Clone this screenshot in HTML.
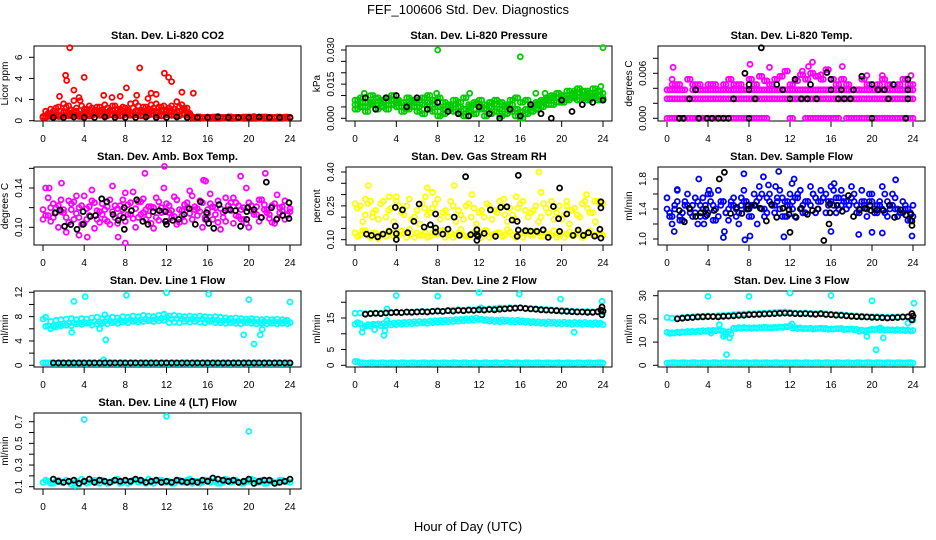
<!DOCTYPE html>
<html><head><meta charset="utf-8"><style>
html,body{margin:0;padding:0;background:#fff;}
svg{display:block;font-family:"Liberation Sans",sans-serif;}
</style></head><body>
<svg id="fig" width="936" height="540" viewBox="0 0 936 540" xmlns="http://www.w3.org/2000/svg">
<rect x="0" y="0" width="936" height="540" fill="#fff"/>
<text x="468" y="14" font-size="13" text-anchor="middle">FEF_100606  Std. Dev. Diagnostics</text>
<text x="468" y="531" font-size="13" text-anchor="middle">Hour of Day (UTC)</text>
</svg>
<script>
const HH=[0,0.5,1,1.5,2,2.5,3,3.5,4,4.5,5,5.5,6,6.5,7,7.5,8,8.5,9,9.5,10,10.5,11,11.5,12,12.5,13,13.5,14,14.5,15,15.5,16,16.5,17,17.5,18,18.5,19,19.5,20,20.5,21,21.5,22,22.5,23,23.5,24];
const HQ=[0.25,0.75,1.25,1.75,2.25,2.75,3.25,3.75,4.25,4.75,5.25,5.75,6.25,6.75,7.25,7.75,8.25,8.75,9.25,9.75,10.25,10.75,11.25,11.75,12.25,12.75,13.25,13.75,14.25,14.75,15.25,15.75,16.25,16.75,17.25,17.75,18.25,18.75,19.25,19.75,20.25,20.75,21.25,21.75,22.25,22.75,23.25,23.75];
const KH=[1,2,3,4,5,6,7,8,9,10,11,12,13,14,15,16,17,18,19,20,21,22,23,24];
const xTickVals=[0,4,8,12,16,20,24];

// Panel 1 CO2
const co2A=[0.4,0.7,0.9,1.3,1.6,1.4,1.9,2.2,1.1,1.4,1.0,1.3,1.5,0.9,1.4,1.1,1.2,1.6,1.7,1.0,1.3,1.5,1.6,1.3,1.0,1.4,1.8,1.5,1.2,0.4,0.35,0.3,0.35,0.3,0.4,0.3,0.35,0.3,0.3,0.35,0.3,0.4,0.3,0.35,0.3,0.3,0.35,0.3,0.3];
const co2B=[0.3,0.5,0.6,0.5,0.8,0.7,0.9,0.6,0.8,0.6,0.9,0.8,0.7,1.0,0.7,0.9,0.8,0.6,0.9,0.8,0.7,0.9,0.8,1.0,0.9,0.8,0.9,1.0,0.7,0.3,0.3,0.25,0.3,0.3,0.3,0.25,0.3,0.3,0.25,0.3,0.3,0.3,0.25,0.3,0.3,0.3,0.3,0.25,0.3];
const co2C=[0.35,0.4,0.45,0.4,0.5,0.45,0.55,0.4,0.5,0.45,0.6,0.5,0.45,0.55,0.5,0.45,0.6,0.5,0.55,0.45,0.5,0.6,0.5,0.45,0.55,0.5,0.45,0.6,0.5,0.3,0.35,0.3,0.3,0.35,0.3,0.3,0.35,0.3,0.3,0.3,0.35,0.3,0.3,0.35,0.3,0.3,0.3,0.35,0.3];
const co2D=[0.9,1.1,1.2,0.9,1.3,1.0,1.2,1.4,1.1,1.2,1.3,1.0,1.2,1.4,1.1,1.3,1.0,1.2,1.4,1.3,1.1,1.2,1.3,1.4,1.2,1.1,1.3,1.2,0.6,0.3,0.35,0.3,0.3,0.35,0.3,0.3,0.35,0.3,0.3,0.35,0.3,0.3,0.35,0.3,0.3,0.35,0.3,0.3];
const co2OutX=[2.6,2.2,2.3,4.0,9.4,8.1,11.8,12.2,12.5,1.6,3.0,7.5,10.5,13.5,14.6,6.7,5.9,3.6,11.0,10.2,9.1];
const co2OutY=[6.9,4.3,3.8,4.1,5.0,3.1,4.5,4.1,3.7,2.3,2.9,2.3,2.6,2.7,2.6,2.2,2.4,1.9,2.5,2.1,2.4];
const co2K=[0.3,0.3,0.35,0.3,0.3,0.35,0.3,0.3,0.3,0.35,0.3,0.3,0.35,0.3,0.3,0.3,0.35,0.3,0.3,0.3,0.35,0.3,0.3,0.3];

// Panel 2 pressure
const prA=[0.008,0.009,0.007,0.010,0.009,0.008,0.009,0.010,0.008,0.007,0.009,0.008,0.008,0.009,0.010,0.008,0.009,0.007,0.006,0.008,0.007,0.009,0.006,0.007,0.008,0.006,0.007,0.008,0.007,0.006,0.008,0.009,0.007,0.008,0.006,0.007,0.008,0.009,0.010,0.011,0.010,0.012,0.011,0.013,0.012,0.011,0.013,0.012,0.011];
const prB=[0.004,0.005,0.003,0.006,0.004,0.005,0.004,0.006,0.005,0.003,0.004,0.005,0.003,0.002,0.004,0.003,0.001,0.002,0.004,0.003,0.002,0.001,0.003,0.002,0.004,0.001,0.002,0.003,0.001,0.002,0.003,0.001,0.000,0.002,0.003,0.004,0.005,0.006,0.006,0.007,0.007,0.008,0.009,0.008,0.009,0.008,0.009,0.008,0.008];
const prC=[0.006,0.007,0.005,0.007,0.006,0.007,0.006,0.008,0.007,0.005,0.006,0.007,0.005,0.006,0.007,0.006,0.005,0.004,0.005,0.006,0.005,0.004,0.005,0.006,0.005,0.004,0.005,0.006,0.004,0.005,0.006,0.004,0.003,0.004,0.005,0.006,0.007,0.008,0.009,0.009,0.010,0.009,0.010,0.011,0.010,0.009,0.010,0.010,0.009];
const prOutX=[8,16,24,23.8,18.4,21.2,22.5,7.9,0.9,11.1,17.5];
const prOutY=[0.030,0.027,0.031,0.014,0.011,0.012,0.012,0.011,0.011,0.011,0.011];
const prK=[0.009,0.004,0.009,0.010,0.005,0.009,0.004,0.007,0.003,0.002,0.001,0.005,0.002,0.000,0.004,0.001,0.006,0.002,0.000,0.008,0.003,0.006,0.007,0.008];

// Panel 3 Li-820 temp
const tpA=[0,0,0,0,0,0,0,0,0,0,0,0,0,0,0,0,0,0,0,0,null,null,null,null,0,null,null,0,0,0,0,0,0,0,null,0,0,0,0,0,0,0,0,0,0,0,0,0,0];
const tpB=[0.0026,0.0026,0.0026,0.0026,0.0026,0.0026,0.0026,0.0026,0.0026,0.0026,0.0026,0.0026,0.0026,0.0026,0.0026,0.0026,0.0026,0.0026,0.0026,0.0026,0.0026,0.0026,0.0026,0.0026,0.0026,0.0026,0.0026,0.0026,0.0026,0.0026,0.0026,0.0026,0.0026,0.0026,0.0026,0.0026,0.0026,0.0026,0.0026,0.0026,0.0026,0.0026,0.0026,0.0026,0.0026,0.0026,0.0026,0.0026,0.0026];
const tpC=[0.0038,0.0038,0.0038,0.0038,null,0.0038,0.0038,0.0038,0.0038,0.0038,0.0038,0.0038,0.0038,0.0038,0.0038,0.0038,0.0038,0.0038,0.0038,0.0038,0.0038,0.0038,0.0038,0.0038,0.0038,0.0038,0.0038,0.0038,0.0038,0.0038,0.0038,0.0038,0.0038,0.0038,0.0038,0.0038,0.0038,0.0038,0.0038,0.0038,0.0038,0.0038,0.0038,0.0038,0.0038,0.0038,0.0038,0.0038,0.0038];
const tpD=[null,0.0045,0.0045,null,0.0052,0.0045,0.0045,null,0.0045,0.0045,null,0.0045,0.0052,0.0045,0.0045,null,0.0052,0.0045,0.0056,0.005,0.0045,0.0052,0.0056,0.0063,0.0045,0.005,0.0058,0.0052,0.006,0.0056,0.0052,0.0065,0.0052,0.0045,0.0052,0.0045,null,null,0.0052,0.0045,null,0.0045,0.0052,0.0045,null,0.0045,0.0052,0.0045,0.0045];
const tpOutX=[0.5,0.6,8.1,10,13.8,14.2,17.1,19.5,23.8,21.0,13.2,15.0];
const tpOutY=[0.0052,0.0068,0.0072,0.0068,0.0069,0.0075,0.0069,0.0057,0.0057,0.0057,0.0063,0.0058];
const tpKX=[1.2,1.6,3.1,3.9,4.4,5,5.5,6,8,2.8,2.2,6.5,7.6,8,8,8.6,9.2,10.7,11.3,12,12.5,13.1,14.0,13.7,14.6,15.6,16,16,16.7,17.3,17.9,17,18.2,19,20,20,20.6,21.2,21.6,22.1,23.5,23.5,23.5,23.3];
const tpKY=[0,0,0,0,0,0,0,0,0,0.0038,0.0026,0.0026,0.0060,0.0045,0.0038,0.0026,0.0094,0.0045,0.0038,0.0026,0.0052,0.0026,0.0045,0.0026,0.0026,0.0061,0.0052,0.0038,0.0026,0.0026,0.0026,0.0038,0.0038,0.0056,0.0045,0,0.0038,0.0038,0.0026,0.0045,0.0052,0.0026,0.0038,0];

// Panel 4 box temp
const bxA=[0.118,0.13,0.11,0.122,0.115,0.127,0.108,0.12,0.132,0.112,0.125,0.105,0.118,0.128,0.11,0.122,0.135,0.113,0.119,0.126,0.108,0.121,0.13,0.115,0.124,0.11,0.128,0.117,0.12,0.132,0.112,0.125,0.118,0.108,0.127,0.115,0.122,0.13,0.111,0.12,0.125,0.113,0.128,0.118,0.109,0.124,0.12,0.127,0.116];
const bxB=[0.108,0.112,0.124,0.1,0.118,0.105,0.126,0.11,0.104,0.121,0.099,0.116,0.108,0.103,0.122,0.112,0.106,0.125,0.1,0.113,0.118,0.104,0.11,0.12,0.106,0.117,0.103,0.112,0.125,0.108,0.119,0.1,0.114,0.121,0.105,0.11,0.118,0.104,0.122,0.108,0.1,0.116,0.106,0.123,0.113,0.104,0.115,0.108,0.119];
const bxC=[0.14,0.12,0.115,0.128,0.095,0.118,0.132,0.122,0.108,0.138,0.117,0.124,0.106,0.142,0.119,0.128,0.113,0.136,0.11,0.129,0.121,0.099,0.126,0.14,0.115,0.131,0.105,0.123,0.137,0.118,0.127,0.11,0.134,0.12,0.098,0.13,0.117,0.125,0.108,0.14,0.122,0.113,0.128,0.118,0.105,0.133,0.121,0.112];
const bxD=[0.112,0.106,0.12,0.116,0.11,0.124,0.114,0.103,0.119,0.127,0.108,0.113,0.121,0.116,0.104,0.118,0.123,0.109,0.126,0.115,0.112,0.12,0.107,0.117,0.122,0.111,0.118,0.106,0.114,0.121,0.116,0.108,0.124,0.113,0.119,0.106,0.125,0.112,0.118,0.104,0.117,0.121,0.11,0.115,0.122,0.109,0.117,0.113];
const bxOutX=[0.6,1.8,4.3,8.0,9.9,15.6,15.8,19.2,21.6,3.5,11.8,7.3];
const bxOutY=[0.14,0.145,0.09,0.084,0.155,0.148,0.147,0.152,0.155,0.092,0.162,0.09];
const bxKX=[1.17,1.65,2.1,2.7,3.3,3.9,3.9,4.6,5.1,5.7,6.2,6.8,7.3,7.8,7.9,7.9,8.6,9.1,9.7,10.2,10.7,11.3,11.9,11.9,12,12.6,13.2,13.7,14.2,14.8,15.3,15.9,15.9,16.1,16.6,17.1,17.7,18.2,18.7,19.2,19.8,19.9,19.8,20.5,21.2,21.7,22.2,22.7,23.3,23.9,23.9];
const bxKY=[0.1146,0.1176,0.101,0.1027,0.098,0.116,0.103,0.111,0.112,0.129,0.126,0.113,0.107,0.11,0.12,0.098,0.117,0.128,0.106,0.103,0.116,0.117,0.116,0.106,0.103,0.107,0.108,0.113,0.119,0.103,0.126,0.115,0.108,0.104,0.099,0.123,0.117,0.118,0.117,0.101,0.116,0.12,0.108,0.118,0.11,0.146,0.12,0.108,0.112,0.109,0.125];

// Panel 5 RH
const rhA=[0.13,0.12,0.14,0.11,0.13,0.12,0.115,0.13,0.12,0.14,0.11,0.125,0.13,0.12,0.11,0.13,0.125,0.14,0.12,0.11,0.13,0.12,0.115,0.13,0.12,0.14,0.11,0.125,0.13,0.12,0.135,0.11,0.125,0.13,0.12,0.14,0.115,0.13,0.12,0.11,0.13,0.125,0.12,0.14,0.11,0.13,0.12,0.125,0.12];
const rhB=[0.115,0.14,0.12,0.13,0.105,0.125,0.14,0.115,0.12,0.13,0.145,0.11,0.12,0.135,0.115,0.125,0.14,0.11,0.13,0.12,0.145,0.115,0.125,0.13,0.11,0.14,0.12,0.13,0.115,0.145,0.12,0.125,0.11,0.14,0.12,0.13,0.115,0.125,0.14,0.12,0.11,0.135,0.12,0.13,0.115,0.14,0.12,0.125];
const rhC=[0.26,0.25,0.21,0.27,0.23,0.26,0.2,0.24,0.27,0.22,0.25,0.19,0.23,0.26,0.21,0.24,0.28,0.22,0.2,0.25,0.23,0.19,0.26,0.24,0.22,0.2,0.25,0.23,0.27,0.21,0.24,0.19,0.26,0.23,0.22,0.25,0.2,0.24,0.27,0.22,0.19,0.25,0.23,0.21,0.26,0.24,0.22,0.27,0.26];
const rhD=[0.24,0.18,0.26,0.22,0.19,0.27,0.23,0.18,0.25,0.21,0.28,0.2,0.17,0.24,0.22,0.26,0.19,0.23,0.27,0.18,0.21,0.25,0.2,0.17,0.23,0.26,0.19,0.22,0.25,0.18,0.21,0.24,0.27,0.2,0.23,0.18,0.26,0.22,0.19,0.25,0.21,0.17,0.24,0.2,0.27,0.22,0.18,0.26];
const rhOutX=[1.3,1.0,3.3,4.0,7.0,7.5,9.6,11.3,15.6,17.8,18,20.5,22.4,23.2,6.8,14.4,1.7];
const rhOutY=[0.34,0.28,0.29,0.29,0.33,0.31,0.34,0.3,0.29,0.4,0.31,0.27,0.3,0.27,0.29,0.28,0.2];
const rhKX=[1.1,1.6,2.2,2.7,3.3,3.9,3.9,4,4,4.6,5.1,5.7,6.2,6.7,7.3,7.8,7.8,7.8,8.5,9,9.6,10.1,10.7,11.2,11.8,11.8,11.8,11.9,12.5,13.1,13.6,14.1,14.7,15.2,15.7,15.8,15.8,15.7,16.5,17,17.6,18.2,18.7,19.2,19.7,19.8,19.8,20.5,21.1,21.6,22.1,22.6,23.2,23.7,23.8,23.8,23.8];
const rhKY=[0.125,0.119,0.113,0.125,0.137,0.243,0.16,0.127,0.101,0.232,0.131,0.181,0.258,0.156,0.166,0.214,0.152,0.134,0.125,0.147,0.2,0.119,0.379,0.122,0.144,0.122,0.097,0.115,0.128,0.232,0.115,0.243,0.246,0.187,0.181,0.385,0.143,0.115,0.14,0.138,0.137,0.144,0.11,0.247,0.193,0.329,0.137,0.214,0.119,0.143,0.119,0.131,0.116,0.146,0.268,0.241,0.107];

// Panel 6 sample flow
const sfA=[1.4,1.3,1.5,1.35,1.45,1.3,1.5,1.4,1.35,1.45,1.3,1.5,1.4,1.45,1.35,1.5,1.4,1.45,1.55,1.4,1.5,1.45,1.4,1.5,1.45,1.55,1.4,1.5,1.45,1.55,1.5,1.6,1.5,1.55,1.45,1.5,1.55,1.45,1.5,1.4,1.5,1.45,1.4,1.5,1.45,1.4,1.35,1.4,1.3];
const sfB=[1.3,1.45,1.25,1.5,1.35,1.55,1.3,1.45,1.6,1.25,1.5,1.35,1.45,1.3,1.55,1.4,1.3,1.5,1.6,1.35,1.45,1.55,1.3,1.5,1.4,1.6,1.35,1.5,1.6,1.4,1.55,1.45,1.65,1.4,1.55,1.45,1.6,1.35,1.5,1.6,1.35,1.5,1.6,1.4,1.55,1.35,1.45,1.25];
const sfC=[1.55,1.2,1.65,1.25,1.6,1.45,1.2,1.55,1.6,1.25,1.65,1.5,1.25,1.55,1.2,1.65,1.3,1.6,1.7,1.3,1.6,1.35,1.65,1.3,1.6,1.3,1.65,1.35,1.7,1.35,1.65,1.35,1.7,1.35,1.65,1.4,1.7,1.35,1.65,1.3,1.6,1.35,1.7,1.3,1.6,1.3,1.5,1.25,1.45];
const sfD=[1.35,1.4,1.3,1.45,1.4,1.35,1.45,1.3,1.5,1.4,1.45,1.35,1.5,1.4,1.45,1.5,1.45,1.5,1.4,1.55,1.45,1.5,1.55,1.45,1.5,1.55,1.45,1.5,1.6,1.5,1.55,1.5,1.45,1.55,1.5,1.45,1.5,1.4,1.45,1.5,1.4,1.45,1.35,1.45,1.4,1.35,1.4,1.35];
const sfOutX=[0.7,1.0,3.1,3.6,5.6,5.5,7.5,7.6,8.1,9.4,9.9,10.9,11.4,10.6,12.4,12.2,16.3,18.7,20,21,22.3,23.9,11.7,4.1,16.0,8.8];
const sfOutY=[1.1,1.66,1.8,1.2,1.1,1.02,1.87,0.99,1.04,1.83,1.72,1.9,1.03,1.7,1.8,1.74,1.74,1.06,1.09,1.08,1.79,1.04,1.3,1.65,1.1,1.2];
const sfKX=[1.2,1.7,2.2,2.8,3.3,3.8,3.9,4.6,5.1,5.6,6.2,6.8,7.3,7.9,7.9,8.6,9.1,9.7,10.2,10.7,11.3,11.9,11.9,12,12.6,13.1,13.7,14.2,14.7,15.3,15.8,15.9,15.9,16.6,17.1,17.7,18.2,18.8,19.3,19.8,19.9,20.5,21.1,21.7,22.2,22.8,23.3,23.8,23.9,23.9];
const sfKY=[1.38,1.23,1.41,1.3,1.35,1.4,1.32,1.38,1.8,1.89,1.34,1.42,1.34,1.4,1.45,1.45,1.41,1.24,1.46,1.29,1.41,1.39,1.33,1.09,1.29,1.41,1.33,1.38,1.4,0.98,1.2,1.47,1.35,1.45,1.37,1.58,1.3,1.39,1.41,1.45,1.38,1.39,1.38,1.45,1.29,1.39,1.32,1.33,1.24,1.18];

// Panel 7 Line 1
const l1A=[7.6,6.5,6.4,6.6,6.8,6.9,7.0,6.9,7.1,7.0,7.2,7.1,7.2,7.3,7.2,7.4,7.3,7.5,7.4,7.5,7.6,7.5,7.6,7.7,7.9,7.6,7.7,7.6,7.5,7.6,7.5,7.6,7.4,7.5,7.4,7.3,7.4,7.2,7.3,7.2,7.3,7.2,7.1,7.2,7.1,7.2,7.1,7.2,7.0];
const l1B=[6.4,6.0,6.3,6.5,6.6,6.5,6.8,6.7,6.9,6.6,6.8,6.9,6.8,7.0,6.9,7.1,7.0,7.2,7.1,7.2,7.3,7.2,7.3,7.4,7.0,7.1,7.0,7.2,7.1,7.2,7.1,7.0,7.2,7.0,7.0,6.9,7.0,6.9,6.8,7.0,6.9,6.8,6.9,6.8,6.9,6.8,6.9,6.8];
const l1C=[7.9,7.2,7.4,7.5,7.6,7.7,7.5,7.7,7.6,7.8,7.9,7.7,7.8,7.9,7.8,8.0,7.9,8.1,8.0,8.2,8.1,8.0,8.2,8.4,8.1,8.2,8.1,8.0,8.1,8.0,8.1,8.0,7.9,8.0,7.9,7.8,7.7,7.8,7.7,7.6,7.7,7.6,7.5,7.6,7.5,7.6,7.5,7.4];
const l1Low=[0.4,0.4,0.3,0.4,0.3,0.4,0.3,0.4,0.3,0.4,0.3,0.4,0.3,0.4,0.3,0.4,0.3,0.4,0.3,0.4,0.3,0.4,0.3,0.4,0.3,0.4,0.3,0.4,0.3,0.4,0.3,0.4,0.3,0.4,0.3,0.4,0.3,0.4,0.3,0.4,0.3,0.4,0.3,0.4,0.3,0.4,0.3,0.4,0.3];
const l1OutX=[3.0,2.8,4.1,6.0,6.1,5.5,8.1,12.0,16.1,19.5,20.0,20.5,21.1,21.3,24.0,5.9];
const l1OutY=[10.5,5.4,11.3,8.3,4.2,6.0,11.5,11.9,11.7,5.0,10.8,3.5,5.0,5.9,10.4,0.9];
const l1K=[null,null,0.4,0.4,0.4,0.4,0.4,0.4,0.4,0.4,0.4,0.4,0.4,0.4,0.4,0.4,0.4,0.4,0.4,0.4,0.4,0.4,0.4,0.4,0.4,0.4,0.4,0.4,0.4,0.4,0.4,0.4,0.4,0.4,0.4,0.4,0.4,0.4,0.4,0.4,0.4,0.4,0.4,0.4,0.4,0.4,0.4,0.4,0.4];

// Panel 8 Line 2
const l2A=[16.5,16.6,16.4,16.5,16.6,16.5,16.7,16.6,16.8,16.7,16.8,16.9,17,17.1,17.0,17.2,17.3,17.2,17.4,17.5,17.6,17.5,17.7,17.6,17.8,17.7,17.9,18,18.2,18.1,18.3,18.2,18.3,18.1,18.0,17.9,17.8,17.7,17.6,17.5,17.4,17.3,17.2,17.1,17.0,17.1,17.0,16.9,17.0];
const l2B=[13,13.2,12.4,12.5,12.8,12.6,12.7,12.8,12.9,13,13.1,13.2,13.3,13.4,13.3,13.5,13.6,13.7,13.8,13.9,14.0,14.1,14.2,14.3,14.5,14.2,14.0,13.9,13.8,13.9,13.8,13.7,13.8,13.6,13.5,13.4,13.3,13.2,13.3,13.2,13.1,13.2,13.0,13.1,13.0,13.1,12.9,13.0,12.9];
const l2C=[13.5,12.0,12.9,13.0,13.1,13.2,13.3,13.4,13.5,13.6,13.7,13.8,13.9,13.8,14.0,14.1,14.2,14.3,14.4,14.5,14.6,14.7,14.8,15.0,14.6,14.5,14.4,14.3,14.4,14.3,14.2,14.3,14.1,14.0,13.9,13.8,13.7,13.8,13.7,13.6,13.7,13.5,13.6,13.5,13.6,13.4,13.5,13.4];
const l2Low=[1.2,0.8,0.7,0.8,0.7,0.8,0.7,0.8,0.7,0.8,0.7,0.8,0.7,0.8,0.7,0.8,0.7,0.8,0.7,0.8,0.7,0.8,0.7,0.8,0.7,0.8,0.7,0.8,0.7,0.8,0.7,0.8,0.7,0.8,0.7,0.8,0.7,0.8,0.7,0.8,0.7,0.8,0.7,0.8,0.7,0.8,0.7,0.8,0.7];
const l2OutX=[4.0,8.0,12.0,15.9,19.9,23.9,0.7,2.8,2.9,3.1,3.1,21.2,1.9,12.2];
const l2OutY=[22.1,21.9,23.1,22.6,21.0,20.3,10.5,9.5,11,14.2,17.9,10.5,11.3,18.2];
const l2K=[null,null,16.2,16.4,16.5,16.4,16.6,16.7,16.8,16.7,16.9,16.8,16.9,17.0,16.9,17.1,17.2,17.1,17.3,17.2,17.4,17.3,17.5,17.4,17.6,17.5,17.7,17.6,17.8,17.9,18.0,18.1,18.2,18.0,17.9,17.8,17.6,17.5,17.4,17.3,17.2,17.1,17.0,16.9,16.9,16.8,16.8,17.0,17.2];
const l2KX=[23.9,23.9,23.8];
const l2KY=[18.5,16.0,17.5];

// Panel 9 Line 3
const l3A=[20.6,20.3,20.4,20.6,20.8,20.9,21.1,21.2,21.3,21.2,21.4,21.5,21.6,21.8,22.0,22.1,22.2,22.3,22.4,22.5,22.6,22.8,22.9,23.0,22.8,22.6,22.5,22.6,22.4,22.3,22.4,22.2,22.0,21.9,21.8,21.6,21.4,21.3,21.2,21.0,21.0,20.9,20.8,20.7,20.8,20.9,21.0,21.0,19.5];
const l3B=[14.2,14.0,14.3,14.4,14.6,14.7,14.8,14.9,15.0,15.1,15.2,14.8,14.5,16.0,16.2,16.3,16.1,16.2,16.3,16.4,16.2,16.4,16.5,16.6,17.0,16.3,16.1,15.9,16.0,15.8,16.0,15.9,15.7,15.8,15.9,15.6,15.7,15.5,15.2,15.0,15.5,15.6,15.5,15.4,15.3,15.4,15.3,15.2,15.0];
const l3C=[13.8,13.9,14.0,14.2,14.3,14.4,14.5,14.6,14.8,14.9,15.0,14.0,13.5,15.8,15.9,16.0,15.9,16.0,16.1,16.2,16.1,16.2,16.3,16.6,16.0,15.8,15.7,15.8,15.6,15.8,15.7,15.5,15.6,15.7,15.4,15.5,15.3,14.6,14.8,15.2,15.3,15.2,15.1,15.2,15.1,15.0,14.9,14.8];
const l3Low=[1.0,1.1,1.0,1.1,1.0,1.1,1.0,1.1,1.0,1.1,1.0,1.1,1.0,1.1,1.0,1.1,1.0,1.1,1.0,1.1,1.0,1.1,1.0,1.1,1.0,1.1,1.0,1.1,1.0,1.1,1.0,1.1,1.0,1.1,1.0,1.1,1.0,1.1,1.0,1.1,1.0,1.1,1.0,1.1,1.0,1.1,1.0,1.1,1.0];
const l3OutX=[4,8,12,16,20,24.1,5.8,20.4,5.1,5.5,5.7,6.1,4.3,19.5,20.8,21.1,12.2,23.5];
const l3OutY=[29.7,29.7,31.1,30.1,27.8,26.8,4.6,6.7,17.5,12.5,13.2,11.8,13.9,12.5,16.1,11.8,17.8,18.2];
const l3K=[null,null,20.0,20.3,20.5,20.6,20.8,20.9,21.0,21.0,20.9,21.1,21.2,21.3,21.5,21.6,21.8,21.9,22.0,22.1,22.2,22.3,22.4,22.5,22.4,22.3,22.2,22.3,22.1,22.0,22.2,21.9,21.8,21.6,21.5,21.3,21.1,21.0,20.9,20.8,20.7,20.6,20.5,20.4,20.5,20.6,20.8,20.9,21.2];
const l3KX=[23.9,23.9];
const l3KY=[22.3,19.6];

// Panel 10 Line 4
const l4A=[0.14,0.15,0.13,0.16,0.14,0.15,0.13,0.12,0.15,0.14,0.16,0.13,0.15,0.14,0.16,0.13,0.15,0.14,0.16,0.15,0.13,0.14,0.15,0.16,0.14,0.13,0.15,0.14,0.16,0.13,0.15,0.14,0.16,0.15,0.13,0.14,0.16,0.15,0.14,0.13,0.15,0.16,0.14,0.13,0.15,0.14,0.16,0.15,0.14];
const l4B=[0.16,0.13,0.15,0.14,0.16,0.12,0.15,0.17,0.13,0.15,0.14,0.16,0.13,0.15,0.17,0.14,0.13,0.16,0.14,0.15,0.17,0.13,0.16,0.14,0.15,0.13,0.16,0.14,0.17,0.15,0.13,0.16,0.14,0.15,0.13,0.17,0.14,0.16,0.13,0.15,0.17,0.14,0.16,0.13,0.15,0.14,0.16,0.15];
const l4OutX=[4,12,20,3.1];
const l4OutY=[0.72,0.75,0.61,0.11];
const l4K=[null,null,0.17,0.15,0.14,0.15,0.16,0.13,0.15,0.17,0.14,0.16,0.15,0.14,0.16,0.15,0.16,0.15,0.17,0.16,0.14,0.15,0.16,0.14,0.15,0.14,0.16,0.15,0.14,0.15,0.14,0.16,0.15,0.18,0.17,0.16,0.15,0.16,0.14,0.15,0.17,0.13,0.15,0.16,0.16,0.13,0.14,0.15,0.17];

const svg=document.getElementById('fig');
const NS='http://www.w3.org/2000/svg';
function mk(tag,parent){const e=document.createElementNS(NS,tag);parent.appendChild(e);return e;}

function makePanel(c){
  const g=mk('g',svg);
  
  
  const sx=h=>c.x0+h*(c.x24-c.x0)/24;
  const sy=v=>c.p1+(v-c.v1)*(c.p2-c.p1)/(c.v2-c.v1);
  const box=mk('rect',g);
  
  
  box.setAttribute('x',c.L);box.setAttribute('y',c.T);box.setAttribute('width',c.R-c.L);box.setAttribute('height',c.B-c.T);
  box.setAttribute('fill','none');box.setAttribute('stroke','#000');box.setAttribute('stroke-width','1');
  const t=mk('text',g);
  
  
  t.setAttribute('x',(c.L+c.R)/2);t.setAttribute('y',c.T-7);t.setAttribute('font-size','11');t.setAttribute('font-weight','bold');t.setAttribute('text-anchor','middle');
  t.textContent=c.title;
  const yl=mk('text',g);
  
  
  const ym=(c.T+c.B)/2;
  yl.setAttribute('transform','translate('+(c.L-26)+','+ym+') rotate(-90)');
  yl.setAttribute('font-size','10');yl.setAttribute('text-anchor','middle');
  yl.textContent=c.ylab;
  xTickVals.forEach(h=>{
    const l=mk('line',g);
    
    
    l.setAttribute('x1',sx(h));l.setAttribute('x2',sx(h));l.setAttribute('y1',c.B);l.setAttribute('y2',c.B+6);l.setAttribute('stroke','#000');
    const tx=mk('text',g);
    
    
    tx.setAttribute('x',sx(h));tx.setAttribute('y',c.B+21);tx.setAttribute('font-size','10');tx.setAttribute('text-anchor','middle');
    tx.textContent=String(h);
  });
  c.yt.forEach((v,i)=>{
    const l=mk('line',g);
    
    
    l.setAttribute('x1',c.L-5);l.setAttribute('x2',c.L);l.setAttribute('y1',sy(v));l.setAttribute('y2',sy(v));l.setAttribute('stroke','#000');
    if(c.yl[i]){
      const tx=mk('text',g);
      
      
      tx.setAttribute('transform','translate('+(c.L-12)+','+sy(v)+') rotate(-90)');
      tx.setAttribute('font-size','10');tx.setAttribute('text-anchor','middle');
      tx.textContent=c.yl[i];
    }
  });
  return {g,sx,sy};
}
function plot(p,xs,ys,color){
  for(let i=0;i<ys.length;i++){
    if(ys[i]===null||xs[i]===undefined)continue;
    const ci=mk('circle',p.g);
    
    
    ci.setAttribute('cx',p.sx(xs[i]).toFixed(1));ci.setAttribute('cy',p.sy(ys[i]).toFixed(1));
    ci.setAttribute('r','2.5');ci.setAttribute('fill','none');ci.setAttribute('stroke',color);ci.setAttribute('stroke-width','1.8');
  }
}
const RED='#ff0000',GRN='#00cc00',MAG='#ff00ff',YEL='#ffff00',BLU='#0000ff',CY='#00ffff',BK='#000';

let p=makePanel({name:'panel-co2',L:34,R:301,T:46,B:121,x0:43,x24:290,v1:0,p1:120.7,v2:6,p2:57.3,yt:[0,2,4,6],yl:['0','2','4','6'],title:'Stan. Dev. Li-820 CO2',ylab:'Licor ppm'});
plot(p,HH,co2A,RED);plot(p,HH,co2B,RED);plot(p,HH,co2C,RED);plot(p,HQ,co2D,RED);plot(p,HQ,co2B,RED);plot(p,HQ,co2C,RED);plot(p,co2OutX,co2OutY,RED);plot(p,KH,co2K,BK);

p=makePanel({name:'panel-pressure',L:346,R:612,T:46,B:121,x0:355,x24:603,v1:0,p1:118.3,v2:0.03,p2:50,yt:[0,0.005,0.01,0.015,0.02,0.025,0.03],yl:['0.000','','','0.015','','','0.030'],title:'Stan. Dev. Li-820 Pressure',ylab:'kPa'});
plot(p,HH,prA,GRN);plot(p,HH,prB,GRN);plot(p,HH,prC,GRN);plot(p,HQ,prA,GRN);plot(p,HQ,prB,GRN);plot(p,HQ,prC,GRN);plot(p,prOutX,prOutY,GRN);plot(p,KH,prK,BK);

p=makePanel({name:'panel-li820-temp',L:658,R:925,T:46,B:121,x0:667,x24:913,v1:0,p1:118.3,v2:0.006,p2:73.3,yt:[0,0.002,0.004,0.006,0.008],yl:['0.000','','','0.006',''],title:'Stan. Dev. Li-820 Temp.',ylab:'degrees C'});
plot(p,HH,tpA,MAG);plot(p,HQ,tpA,MAG);plot(p,HH,tpB,MAG);plot(p,HQ,tpB,MAG);plot(p,HH,tpC,MAG);plot(p,HQ,tpC,MAG);plot(p,HH,tpD,MAG);plot(p,HQ,tpD,MAG);plot(p,tpOutX,tpOutY,MAG);plot(p,tpKX,tpKY,BK);

p=makePanel({name:'panel-box-temp',L:34,R:301,T:167,B:245,x0:43,x24:290,v1:0.10,p1:227.3,v2:0.14,p2:188,yt:[0.10,0.12,0.14,0.16],yl:['0.10','','0.14',''],title:'Stan. Dev. Amb. Box Temp.',ylab:'degrees C'});
plot(p,HH,bxA,MAG);plot(p,HH,bxB,MAG);plot(p,HQ,bxC,MAG);plot(p,HQ,bxD,MAG);plot(p,bxOutX,bxOutY,MAG);plot(p,bxKX,bxKY,BK);

p=makePanel({name:'panel-gas-rh',L:346,R:612,T:167,B:245,x0:355,x24:603,v1:0.10,p1:239.7,v2:0.40,p2:172,yt:[0.10,0.15,0.20,0.25,0.30,0.35,0.40],yl:['0.10','','','0.25','','','0.40'],title:'Stan. Dev. Gas Stream RH',ylab:'percent'});
plot(p,HH,rhA,YEL);plot(p,HQ,rhB,YEL);plot(p,HH,rhC,YEL);plot(p,HQ,rhD,YEL);plot(p,rhOutX,rhOutY,YEL);plot(p,rhKX,rhKY,BK);

p=makePanel({name:'panel-sample-flow',L:658,R:925,T:167,B:245,x0:667,x24:913,v1:1.0,p1:239,v2:1.8,p2:179,yt:[1.0,1.2,1.4,1.6,1.8],yl:['1.0','','1.4','','1.8'],title:'Stan. Dev. Sample Flow',ylab:'ml/min'});
plot(p,HH,sfA,BLU);plot(p,HQ,sfB,BLU);plot(p,HH,sfC,BLU);plot(p,HQ,sfD,BLU);plot(p,sfOutX,sfOutY,BLU);plot(p,sfKX,sfKY,BK);

p=makePanel({name:'panel-line1-flow',L:34,R:301,T:291,B:367,x0:43,x24:290,v1:0,p1:365.3,v2:12,p2:292.3,yt:[0,2,4,6,8,10,12],yl:['0','','4','','8','','12'],title:'Stan. Dev. Line 1 Flow',ylab:'ml/min'});
plot(p,HH,l1A,CY);plot(p,HQ,l1B,CY);plot(p,HQ,l1C,CY);plot(p,HH,l1Low,CY);plot(p,HQ,l1Low,CY);plot(p,l1OutX,l1OutY,CY);plot(p,HH,l1K,BK);

p=makePanel({name:'panel-line2-flow',L:346,R:612,T:291,B:367,x0:355,x24:603,v1:0,p1:365.3,v2:15,p2:318,yt:[0,5,10,15,20],yl:['0','5','','15',''],title:'Stan. Dev. Line 2 Flow',ylab:'ml/min'});
plot(p,HH,l2A,CY);plot(p,HH,l2B,CY);plot(p,HQ,l2C,CY);plot(p,HH,l2Low,CY);plot(p,HQ,l2Low,CY);plot(p,l2OutX,l2OutY,CY);plot(p,HH,l2K,BK);plot(p,l2KX,l2KY,BK);

p=makePanel({name:'panel-line3-flow',L:658,R:925,T:291,B:367,x0:667,x24:913,v1:0,p1:365.3,v2:30,p2:295.7,yt:[0,10,20,30],yl:['0','10','20','30'],title:'Stan. Dev. Line 3 Flow',ylab:'ml/min'});
plot(p,HH,l3A,CY);plot(p,HH,l3B,CY);plot(p,HQ,l3C,CY);plot(p,HH,l3Low,CY);plot(p,HQ,l3Low,CY);plot(p,l3OutX,l3OutY,CY);plot(p,HH,l3K,BK);plot(p,l3KX,l3KY,BK);

p=makePanel({name:'panel-line4-flow',L:34,R:301,T:413,B:489,x0:43,x24:290,v1:0.1,p1:486.7,v2:0.7,p2:421.7,yt:[0.1,0.2,0.3,0.4,0.5,0.6,0.7],yl:['0.1','','0.3','','0.5','','0.7'],title:'Stan. Dev. Line 4 (LT) Flow',ylab:'ml/min'});
plot(p,HH,l4A,CY);plot(p,HQ,l4B,CY);plot(p,l4OutX,l4OutY,CY);plot(p,HH,l4K,BK);
</script>
</body></html>
